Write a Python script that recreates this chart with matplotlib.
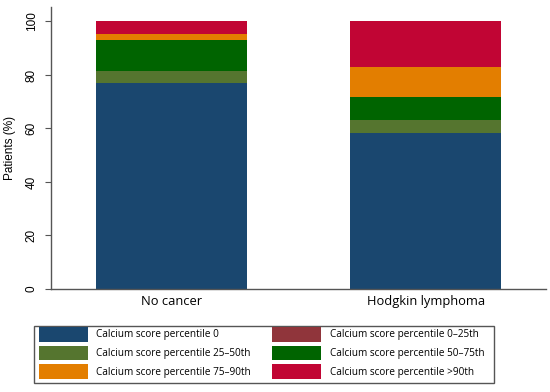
import matplotlib.pyplot as plt
import numpy as np
from matplotlib.patches import Rectangle

plt.rcParams["font.family"] = ["Open Sans", "DejaVu Sans"]

groups = ["No cancer", "Hodgkin lymphoma"]
labels = ["Calcium score percentile 0", "Calcium score percentile 0\u201325th",
          "Calcium score percentile 25\u201350th", "Calcium score percentile 50\u201375th",
          "Calcium score percentile 75\u201390th", "Calcium score percentile >90th"]
p0 = [76.9, 58.4]
p0_25 = [0.0, 0.0]
p25_50 = [4.6, 4.8]
p50_75 = [11.5, 8.7]
p75_90 = [2.3, 11.0]
p90 = [4.7, 17.1]
colors = ["#1a476f", "#90353b", "#55752f", "#006400", "#e37e00", "#c10534"]

series = [p0, p0_25, p25_50, p50_75, p75_90, p90]

fig = plt.figure(figsize=(5.5, 3.92), dpi=100)
ax = fig.add_axes([51 / 550, 1 - 289 / 392, 495 / 550, 282 / 392])

x = np.arange(len(groups))
bottom = np.zeros(len(groups))
handles = {}
for vals, lab, c in zip(series, labels, colors):
    h = ax.bar(x, vals, width=0.593, bottom=bottom, color=c, label=lab, linewidth=0)
    handles[lab] = h
    bottom += np.array(vals)

ax.set_xlim(-0.473, 1.473)
ax.set_ylim(0, 105.4)
ax.set_yticks([0, 20, 40, 60, 80, 100])
ax.set_xticks(x)
ax.set_xticklabels(groups, fontsize=9.3)
ax.tick_params(axis="x", length=0, pad=4)
ax.tick_params(axis="y", length=4.5, color="#555555", labelsize=8.5, pad=5)
for t in ax.get_yticklabels():
    t.set_rotation(90)
    t.set_va("center")
    t.set_family(["Liberation Sans", "DejaVu Sans"])
ax.set_ylabel("Patients (%)", fontsize=8.5, labelpad=7, family=["Liberation Sans", "DejaVu Sans"])
for s in ["top", "right"]:
    ax.spines[s].set_visible(False)
for s in ["left", "bottom"]:
    ax.spines[s].set_color("#555555")
    ax.spines[s].set_linewidth(1)

# legend box drawn by hand so the inner spacing matches
fig.patches.append(Rectangle((34 / 550, 1 - 383 / 392), 460 / 550, 57 / 392,
                             transform=fig.transFigure, fill=False,
                             edgecolor="#555555", linewidth=1))
order = [labels[i] for i in [0, 2, 4, 1, 3, 5]]
leg = fig.legend([handles[l] for l in order], order, ncol=2, loc="center left",
                 bbox_to_anchor=(29 / 550, 1 - 353 / 392),
                 fontsize=7.2, handlelength=4.9, handleheight=1.9, handletextpad=0.85,
                 labelspacing=0.4, borderpad=0.5, columnspacing=2.1, frameon=False)

fig.savefig("out.png", dpi=100)
